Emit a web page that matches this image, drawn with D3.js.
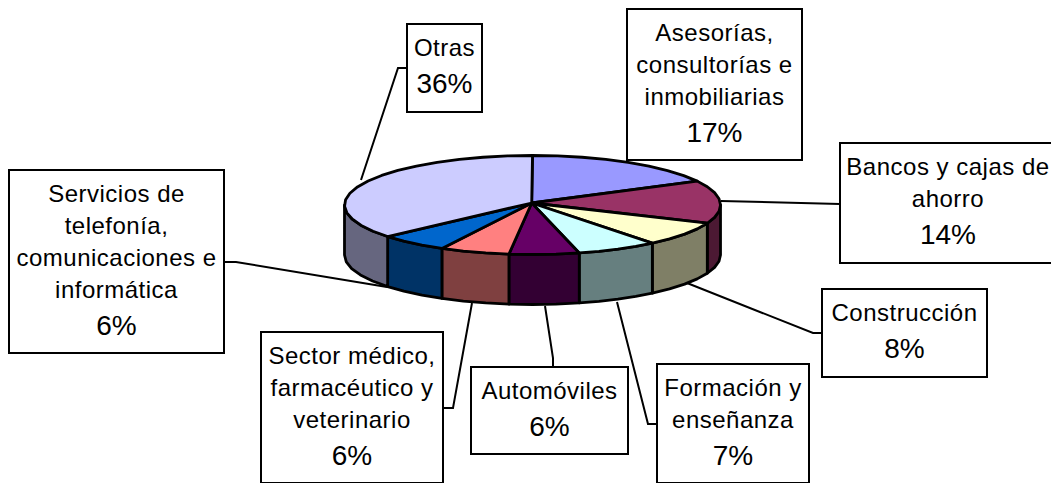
<!DOCTYPE html>
<html><head><meta charset="utf-8">
<script src="https://cdn.jsdelivr.net/npm/d3@7"></script>
<style>html,body{margin:0;padding:0;background:#fff}svg{display:block}</style></head>
<body><svg id="c" width="1051" height="483"></svg>
<script>
const categories=["Asesorías, consultorías e inmobiliarias","Bancos y cajas de ahorro","Construcción","Formación y enseñanza","Automóviles","Sector médico, farmacéutico y veterinario","Servicios de telefonía, comunicaciones e informática","Otras"];
const values=[17,14,8,7,6,6,6,36];
const topColors=["#9999FF","#993366","#FFFFCC","#CCFFFF","#660066","#FF8080","#0066CC","#CCCCFF"];
const sideColors=["#4C4C7F","#4C1933","#7F7F66","#667F7F","#330033","#7F4040","#003366","#66667F"];
const labelLines=[["Asesorías,","consultorías e","inmobiliarias"],["Bancos y cajas de","ahorro"],["Construcción"],["Formación y","enseñanza"],["Automóviles"],["Sector médico,","farmacéutico y","veterinario"],["Servicios de","telefonía,","comunicaciones e","informática"],["Otras"]];
const boxes=[[627,9,175,151],[840,143,221,120],[822,289,165,88],[657,364,152,119],[471,367,157,87],[261,332,182,151],[9,170,215,183],[407,24,75,88]];
const leaders=[[[721,201],[840,204]],[[687,283],[813,333],[822,333]],[],[[617,302],[648,424],[657,424]],[[545,306],[553,358],[553,367]],[[472,303],[453,408],[443,408]],[[387,287],[236,262],[224,262]],[[361,180],[398,68],[407,68]]];

const cx=532.5,cy=205,rx=188,ry=49.5,depth=50,hubX=531.7,hubY=203;
const svg=d3.select("#c");
const arcs=d3.pie().value(d=>d).sort(null)(values);
const px=d3.scaleLinear().domain([-1,1]).range([cx-rx,cx+rx]);
const py=d3.scaleLinear().domain([-1,1]).range([cy-ry,cy+ry]);
const pt=(a,dz=0)=>[px(Math.sin(a)),py(-Math.cos(a))+dz];
function samples(a0,a1){const n=Math.max(2,Math.ceil((a1-a0)/0.14));return d3.range(n+1).map(i=>a0+(a1-a0)*i/n)}
const line=d3.line();
const g=svg.append("g").attr("stroke","#000").attr("stroke-width",2.8).attr("stroke-linejoin","round");

const walls=arcs.map((d,i)=>({i,a0:Math.max(d.startAngle,Math.PI/2),a1:Math.min(d.endAngle,Math.PI*1.5)})).filter(d=>d.a1>d.a0);
g.selectAll(".wall").data(walls).join("path").attr("class","wall")
 .attr("fill",d=>sideColors[d.i])
 .attr("d",d=>{const s=samples(d.a0,d.a1);return line([...s.map(a=>pt(a)),...s.slice().reverse().map(a=>pt(a,depth))])+"Z"});
g.selectAll(".slice").data(arcs).join("path").attr("class","slice")
 .attr("fill",(d,i)=>topColors[i])
 .attr("d",d=>line([[hubX,hubY],...samples(d.startAngle,d.endAngle).map(a=>pt(a))])+"Z");
svg.append("g").attr("fill","none").attr("stroke","#000").attr("stroke-width",2)
 .selectAll("path").data(leaders.filter(l=>l.length)).join("path").attr("d",d=>line(d));
const lh=32, font=24, pctFont=28;
const lab=svg.append("g").selectAll("g").data(categories).join("g");
lab.append("rect").attr("x",(d,i)=>boxes[i][0]).attr("y",(d,i)=>boxes[i][1]).attr("width",(d,i)=>boxes[i][2]).attr("height",(d,i)=>boxes[i][3])
 .attr("fill","#fff").attr("stroke","#000").attr("stroke-width",2);
lab.each(function(d,i){
  const [x,y,w,h]=boxes[i],ls=labelLines[i],n=ls.length;
  const mx=i===1?948:x+w/2,total=n*lh+38,top=y+(h-total)/2;
  const t=d3.select(this);
  ls.forEach((s,k)=>t.append("text").attr("x",mx).attr("y",top+lh*k+23).attr("text-anchor","middle")
    .attr("font-family","Liberation Sans").attr("font-size",font).attr("letter-spacing",0.5).text(s));
  t.append("text").attr("x",mx).attr("y",top+lh*n+28).attr("text-anchor","middle")
    .attr("font-family","Liberation Sans").attr("font-size",pctFont).text(values[i]+"%");
});
</script></body></html>
